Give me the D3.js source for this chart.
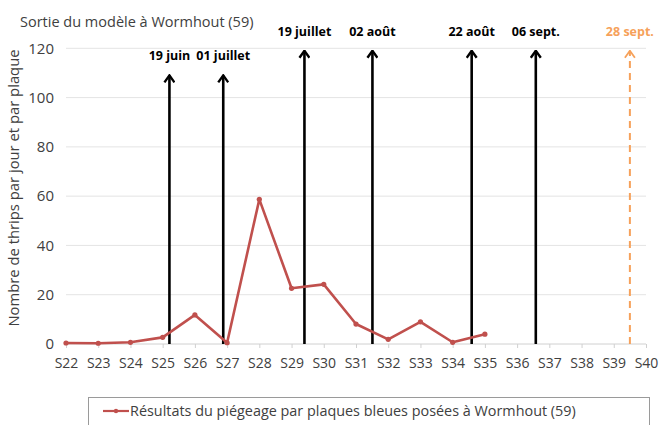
<!DOCTYPE html>
<html>
<head>
<meta charset="utf-8">
<script src="https://cdn.jsdelivr.net/npm/d3@7"></script>
<style>
  body { margin: 0; background: #fff; }
  svg { font-family: "Open Sans", sans-serif; }
</style>
</head>
<body>
<svg id="chart" width="660" height="425"></svg>
<script>
// Semaines et résultats de piégeage
const weeks = ['S22', 'S23', 'S24', 'S25', 'S26', 'S27', 'S28', 'S29', 'S30', 'S31',
  'S32', 'S33', 'S34', 'S35', 'S36', 'S37', 'S38', 'S39', 'S40'];
const thrips = [0.4, 0.3, 0.7, 2.7, 11.8, 0.5, 58.7, 22.6, 24.2, 8.1, 1.9, 9.0, 0.7, 4.0];
const yTicks = [0, 20, 40, 60, 80, 100, 120];

// Sorties du modèle (position en semaine décimale)
const eventLabels = ['19 juin', '01 juillet', '19 juillet', '02 août', '22 août', '06 sept.', '28 sept.'];
const eventWeeks = [25.21, 26.88, 29.40, 31.51, 34.59, 36.58, 39.50];
const eventTops = [109, 109, 119, 119, 119, 119, 119];
const eventForecast = [false, false, false, false, false, false, true];

const titleText = 'Sortie du modèle à Wormhout (59)';
const yLabel = 'Nombre de thrips par jour et par plaque';
const legendText = 'Résultats du piégeage par plaques bleues posées à Wormhout (59)';

const svg = d3.select('#chart');
const red = '#c0504d';
const orange = '#f6a15a';

const x = d3.scalePoint().domain(weeks).range([66, 646]);
const y = d3.scaleLinear().domain([0, 120]).range([344, 48.3]);
const xw = (w) => x('S22') + (w - 22) * x.step();

// grille
svg.append('g')
  .selectAll('line')
  .data(yTicks)
  .enter()
  .append('line')
  .attr('x1', 66).attr('x2', 646)
  .attr('y1', (d) => y(d)).attr('y2', (d) => y(d))
  .attr('stroke', (d) => d === 0 ? '#d0d0d0' : '#e4e4e4')
  .attr('stroke-width', 1);

// axe Y
const yAxis = svg.append('g')
  .attr('transform', 'translate(54,0)')
  .call(d3.axisLeft(y).tickValues(yTicks).tickSize(0).tickPadding(0));
yAxis.select('.domain').remove();
yAxis.selectAll('text')
  .attr('font-size', '15px')
  .attr('font-family', '"Open Sans", sans-serif')
  .attr('fill', '#404040');

// axe X
const xAxis = svg.append('g')
  .attr('transform', 'translate(0,344)')
  .call(d3.axisBottom(x).tickSize(4).tickPadding(10));
xAxis.select('.domain').remove();
xAxis.selectAll('line').attr('stroke', '#d0d0d0');
xAxis.selectAll('text')
  .attr('font-size', '14px')
  .attr('font-family', '"Open Sans", sans-serif')
  .attr('fill', '#404040');

// titre
svg.append('text')
  .attr('x', 20).attr('y', 27)
  .attr('font-size', '14.5px')
  .attr('fill', '#404040')
  .text(titleText);

// libellé Y
svg.append('text')
  .attr('transform', 'translate(19,188) rotate(-90)')
  .attr('text-anchor', 'middle')
  .attr('font-size', '14.8px')
  .attr('fill', '#404040')
  .text(yLabel);

// flèches
const defs = svg.append('defs');
[['arrow-black', '#000', 2.4], ['arrow-orange', orange, 1.8]].forEach(([id, c, sw]) => {
  defs.append('marker')
    .attr('id', id)
    .attr('viewBox', '0 0 10 12')
    .attr('refX', 9).attr('refY', 6)
    .attr('markerWidth', 10).attr('markerHeight', 12)
    .attr('markerUnits', 'userSpaceOnUse')
    .attr('orient', 'auto')
    .append('path')
    .attr('d', 'M2,1 L9,6 L2,11')
    .attr('fill', 'none')
    .attr('stroke', c)
    .attr('stroke-width', sw);
});

const events = eventLabels.map((label, i) => ({
  label, w: eventWeeks[i], top: eventTops[i], forecast: eventForecast[i]
}));

svg.append('g')
  .selectAll('line')
  .data(events)
  .enter()
  .append('line')
  .attr('x1', (d) => xw(d.w)).attr('x2', (d) => xw(d.w))
  .attr('y1', y(0)).attr('y2', (d) => y(d.top))
  .attr('stroke', (d) => d.forecast ? orange : '#000')
  .attr('stroke-width', (d) => d.forecast ? 2 : 2.6)
  .attr('stroke-dasharray', (d) => d.forecast ? '7,5' : null)
  .attr('marker-end', (d) => d.forecast ? 'url(#arrow-orange)' : 'url(#arrow-black)');

svg.append('g')
  .selectAll('text')
  .data(events)
  .enter()
  .append('text')
  .attr('x', (d) => xw(d.w))
  .attr('y', (d) => y(d.top) - 15)
  .attr('text-anchor', 'middle')
  .attr('font-size', '12.5px')
  .attr('font-weight', 'bold')
  .attr('fill', (d) => d.forecast ? orange : '#000')
  .text((d) => d.label);

// courbe des captures
const line = d3.line()
  .x((d, i) => x(weeks[i]))
  .y((d) => y(d));

svg.append('path')
  .datum(thrips)
  .attr('d', line)
  .attr('fill', 'none')
  .attr('stroke', red)
  .attr('stroke-width', 2.6)
  .attr('stroke-linejoin', 'round');

svg.append('g')
  .selectAll('circle')
  .data(thrips)
  .enter()
  .append('circle')
  .attr('cx', (d, i) => x(weeks[i]))
  .attr('cy', (d) => y(d))
  .attr('r', 2.6)
  .attr('fill', red);

// légende
svg.append('rect')
  .attr('x', 88.5).attr('y', 397.5)
  .attr('width', 561).attr('height', 40)
  .attr('fill', '#fff')
  .attr('stroke', '#9a9a9a');

svg.append('line')
  .attr('x1', 103).attr('x2', 129)
  .attr('y1', 411).attr('y2', 411)
  .attr('stroke', red).attr('stroke-width', 2.2);
svg.append('circle')
  .attr('cx', 116).attr('cy', 411).attr('r', 2.2)
  .attr('fill', red);

svg.append('text')
  .attr('x', 130).attr('y', 416)
  .attr('font-size', '14.4px')
  .attr('fill', '#404040')
  .text(legendText);
</script>
</body>
</html>
